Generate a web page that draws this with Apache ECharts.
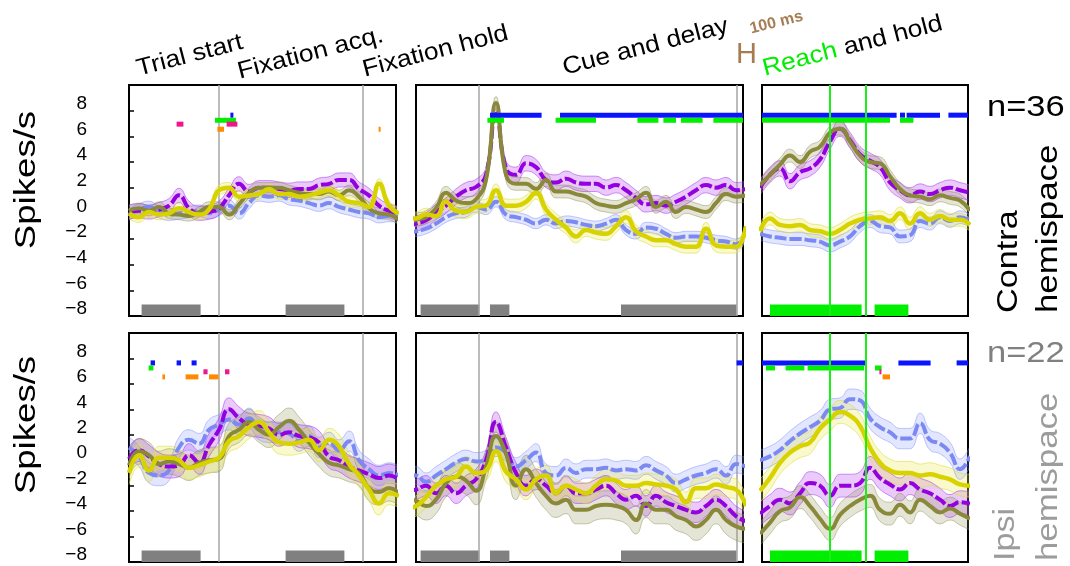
<!DOCTYPE html>
<html>
<head>
<meta charset="utf-8">
<script src="https://cdn.jsdelivr.net/npm/echarts@6/dist/echarts.min.js"></script>
<style>
  html, body { margin: 0; padding: 0; background: #fff; }
  #chart { width: 1070px; height: 566px; }
</style>
</head>
<body>
<div id="chart"></div>
<script>
// ---- time base of each epoch column (ms, relative to the aligning event) ----
const SAMPLE_STEP = 50;
const SAMPLE_START = [0, -365, -350];
const SAMPLE_COUNT = [28, 35, 22];
const X_RANGE = [[0, 1335], [-315, 1320], [-340, 690]];

// ---- y axis (spikes/s, baseline-subtracted) ----
const Y_MIN = -8;
const Y_MAX = 10;
const Y_STEP = 2;

// ---- population means, contralateral hemispace (n=36) ----
const contraViolet = [
  [0.1,0.2,0.1,0.3,0.6,1.4,0.4,0.0,0.1,0.4,1.4,2.3,1.7,2.0,2.0,1.9,1.8,1.9,1.9,2.2,2.3,2.6,2.6,1.9,1.4,0.6,0.2,0.0],
  [-1.06,-0.8,-0.55,0.1,0.6,1.3,1.8,2.05,3.0,8.0,3.5,3.0,3.9,3.6,2.6,2.4,2.7,2.4,2.3,2.3,2.0,2.2,1.8,1.2,0.7,0.8,0.6,0.9,1.3,1.8,2.2,2.0,2.2,1.8,1.9],
  [2.0,3.0,3.5,2.5,3.2,3.5,4.2,5.6,6.6,5.7,4.6,4.1,3.6,2.4,1.8,1.4,1.7,1.5,1.8,2.0,1.8,1.6]
];
const contraBlue = [
  [-0.1,0.3,0.5,0.1,-0.1,0.0,0.1,0.2,0.0,0.3,0.6,0.0,0.8,1.4,1.3,1.4,1.1,1.0,0.8,0.6,0.8,0.5,0.3,0.1,0.0,-0.3,-0.2,-0.3],
  [-1.5,-1.4,-1.2,-0.8,-0.3,0.0,0.1,0.5,0.3,0.9,-0.1,-0.3,-0.5,-0.8,-0.5,-0.8,-0.6,-0.7,-0.9,-1.0,-0.8,-0.5,-1.3,-1.6,-1.1,-1.2,-1.6,-1.9,-1.8,-1.8,-1.9,-2.1,-2.2,-2.4,-1.8],
  [-1.6,-1.8,-1.9,-2.0,-2.0,-2.1,-2.2,-2.5,-2.2,-1.8,-1.0,-0.6,-1.0,-1.1,-1.8,-1.7,-0.6,-0.8,-0.3,-0.6,-0.3,-0.6]
];
const contraOlive = [
  [0.2,0.4,0.2,0.5,0.0,-0.1,-0.2,0.1,0.5,0.5,-0.1,0.7,1.6,2.0,2.0,2.0,1.8,1.6,1.5,1.5,1.7,1.4,1.8,1.3,0.4,0.0,-0.1,-0.5],
  [-0.8,-0.5,-0.3,0.4,1.6,1.0,0.8,1.1,2.6,8.6,3.0,2.3,2.3,1.9,2.6,1.7,1.7,1.5,1.3,0.8,0.6,0.5,0.8,1.1,1.6,0.5,0.9,0.1,0.5,0.3,0.1,0.8,1.5,1.3,1.4],
  [2.2,3.0,3.8,4.5,4.0,4.8,5.2,6.3,6.6,5.6,4.5,4.0,3.9,2.9,1.9,1.4,1.3,1.1,1.4,1.2,1.0,0.2]
];
const contraYellow = [
  [0.0,-0.3,0.1,-0.1,0.0,0.4,0.1,-0.1,0.3,1.8,2.0,1.3,1.4,1.5,1.9,1.5,1.5,1.3,1.4,1.6,1.8,1.4,0.9,0.8,0.5,2.3,0.6,0.0],
  [-0.2,-0.4,-0.1,-0.2,0.9,0.2,0.1,0.5,0.6,1.8,0.6,0.6,0.9,1.6,0.3,-0.5,-1.1,-1.8,-1.3,-1.5,-1.6,-1.0,-0.3,-1.4,-1.8,-2.1,-2.1,-2.4,-2.6,-2.6,-1.2,-2.5,-2.6,-2.6,-1.0],
  [-1.4,-0.4,-0.9,-1.0,-0.9,-1.3,-1.4,-1.6,-1.3,-0.8,-0.5,-0.4,-0.3,-0.6,0.0,-0.8,0.0,-0.5,-0.2,-0.5,-0.5,-0.9]
];
// standard error half-widths per column
const contraVioletSem = [0.55, 0.6, 0.6];
const contraBlueSem = [0.45, 0.4, 0.5];
const contraOliveSem = [0.4, 0.5, 0.5];
const contraYellowSem = [0.4, 0.5, 0.5];

// ---- population means, ipsilateral hemispace (n=22) ----
const ipsiViolet = [
  [0.1,0.8,0.3,-0.3,-0.5,-0.4,0.4,-0.2,1.2,2.4,4.0,3.3,2.8,2.7,2.5,2.0,2.2,1.9,1.8,1.4,0.3,0.0,-0.5,-0.8,-1.1,-1.4,-1.2,-1.5],
  [-2.4,-2.3,-2.0,-2.6,-2.0,-2.6,-2.0,-1.5,0.0,3.0,1.0,-1.0,-2.0,-1.5,-2.0,-2.6,-2.0,-2.6,-2.6,-2.3,-2.0,-2.6,-3.1,-2.8,-3.6,-2.8,-3.3,-3.6,-3.9,-4.1,-3.6,-3.1,-3.6,-4.4,-4.8],
  [-4.2,-3.6,-3.1,-3.4,-2.6,-1.8,-2.0,-2.8,-2.0,-2.0,-1.8,-0.6,-1.4,-1.9,-2.3,-1.8,-2.3,-2.6,-3.1,-3.6,-3.3,-3.4]
];
const ipsiBlue = [
  [1.0,0.3,-1.0,-1.2,-0.8,1.0,1.6,1.3,2.4,2.8,3.2,2.8,3.3,2.4,2.2,2.2,2.1,1.5,1.9,1.0,1.4,0.8,1.5,0.0,-0.7,-1.2,-1.0,-1.2],
  [-1.2,-1.2,-1.7,-1.2,-0.7,-0.2,0.1,-0.1,0.1,1.0,0.6,-0.5,0.0,0.6,-1.0,-1.2,-0.6,-1.0,-0.7,-0.7,-0.6,-0.8,-0.7,-0.8,-0.4,-0.8,-1.2,-1.8,-1.5,-1.2,-1.0,-0.7,-1.2,-0.3,-0.5],
  [0.0,0.3,0.8,1.5,2.1,2.6,3.1,4.0,4.1,4.8,4.7,3.3,2.6,2.2,1.7,1.7,2.9,1.6,1.3,0.6,-0.7,0.3]
];
const ipsiOlive = [
  [-0.4,0.7,0.4,-0.3,-0.1,-0.3,-0.6,-0.2,0.0,0.1,1.9,2.4,3.0,2.4,2.0,2.6,3.1,2.4,1.4,0.5,-0.2,-0.4,-0.7,-1.0,-2.2,-2.5,-2.2,-2.6],
  [-3.0,-3.2,-3.6,-3.1,-1.8,-1.3,-1.6,-2.4,-0.5,1.9,0.5,-2.0,-0.7,-1.8,-2.8,-3.4,-3.1,-3.9,-3.9,-3.6,-3.5,-3.6,-3.9,-4.7,-3.4,-3.9,-3.9,-4.4,-4.7,-5.2,-4.7,-3.9,-4.7,-5.2,-5.4],
  [-5.8,-4.9,-4.0,-3.7,-2.9,-3.6,-4.6,-5.4,-4.3,-3.6,-3.1,-2.8,-3.9,-4.2,-3.5,-4.1,-3.1,-3.6,-4.1,-3.8,-4.2,-4.6]
];
const ipsiYellow = [
  [-1.0,0.4,-0.8,0.2,0.2,0.0,-0.6,-0.4,-0.1,0.2,1.5,1.9,2.6,3.0,2.2,1.4,1.3,1.4,1.6,0.8,1.6,1.1,-0.3,-1.2,-2.3,-3.4,-2.6,-2.8],
  [-3.8,-3.6,-2.9,-2.0,-1.5,-1.3,-0.5,-1.0,-0.8,0.7,-0.9,-1.5,-2.3,-1.5,-1.2,-2.6,-2.0,-2.3,-2.6,-2.0,-1.5,-1.6,-2.0,-2.0,-1.8,-1.9,-2.0,-2.3,-3.3,-2.2,-2.2,-1.9,-2.1,-2.3,-3.6],
  [-2.4,-1.4,-0.2,0.6,1.1,1.4,2.5,3.2,3.8,3.5,2.7,1.0,-0.2,-0.8,-1.0,-1.0,-1.2,-1.1,-1.3,-1.5,-1.9,-2.0]
];
const ipsiVioletSem = [0.9, 0.8, 0.9];
const ipsiBlueSem = [0.8, 0.7, 0.8];
const ipsiOliveSem = [1.0, 1.1, 0.9];
const ipsiYellowSem = [0.9, 0.8, 0.9];

// ---- significance intervals [start ms, end ms, comparison index] ----
// comparison index: 0 blue, 1 green, 2 magenta, 3 orange
const MARK_LEVELS = [7.65, 7.25, 6.95, 6.55];
const contraSignif = [
  [[238,272,2],[430,535,1],[507,522,0],[442,475,3],[488,542,2],[1248,1258,3]],
  [[55,313,0],[405,1330,0],[42,125,1],[383,585,1],[792,897,1],[922,985,1],[1010,1118,1],[1172,1330,1]],
  [[-345,333,0],[350,375,0],[383,550,0],[592,695,0],[-345,300,1],[350,417,1]]
];
const ipsiSignif = [
  [[108,130,0],[238,260,0],[313,338,0],[98,122,1],[167,180,3],[283,347,3],[400,447,3],[372,393,2],[480,502,2]],
  [[1288,1330,0]],
  [[-345,180,0],[342,503,0],[633,695,0],[-320,-275,1],[-222,-128,1],[-112,170,1],[225,258,1],[247,255,2],[263,300,3]]
];

// ---- analysis windows at the bottom of each column [start ms, end ms] ----
const EPOCH_WINDOWS = [
  [[63,358],[783,1077]],
  [[-292,2],[55,152],[710,1288]],
  [[-300,158],[223,392]]
];
const EPOCH_WINDOW_TOP = -7.1;

// ---- task events drawn as vertical lines (ms) ----
const EVENT_TIMES = [[450,1170],[0,1290],[0,180]];

// ---- texts ----
const Y_LABEL = 'Spikes/s';
const EPOCH_TITLES = ['Trial start', 'Fixation acq.', 'Fixation hold', 'Cue and delay'];
const ROW_COUNTS = ['n=36', 'n=22'];
const ROW_NAMES = [['Contra', 'hemispace'], ['Ipsi', 'hemispace']];

// ---------------------------------------------------------------------------
// layout and styling
const FONT = '"Liberation Sans", Arial, Helvetica, sans-serif';
const COL_LEFT = [129, 416, 762];
const COL_WIDTH = [267, 327, 206];
const ROW_TOP = [85, 333];
const ROW_HEIGHT = [231, 229];
const MARK_COLORS = ['#0a14ff', '#00f000', '#f0168c', '#ff8a00'];
const WINDOW_COLORS = ['#808080', '#808080', '#00ee00'];
const EVENT_COLORS = ['#a6a6a6', '#a6a6a6', '#19ee19'];

const STYLE = {
  blue:   { color: '#7b8af2', width: 4, dash: [12, 3], fill: 'rgba(125,140,255,0.22)', edge: 'rgba(120,135,250,0.45)' },
  violet: { color: '#9400e0', width: 4, dash: [12, 3], fill: 'rgba(185,80,240,0.30)', edge: 'rgba(170,60,235,0.55)' },
  olive:  { color: '#8a893a', width: 4, dash: 'solid', fill: 'rgba(150,150,95,0.25)', edge: 'rgba(140,140,80,0.45)' },
  yellow: { color: '#d8d300', width: 4.5, dash: 'solid', fill: 'rgba(235,235,90,0.30)', edge: 'rgba(222,222,70,0.6)' }
};

const ROWS = [
  { curves: [
      { s: STYLE.blue, v: contraBlue, sem: contraBlueSem },
      { s: STYLE.violet, v: contraViolet, sem: contraVioletSem },
      { s: STYLE.olive, v: contraOlive, sem: contraOliveSem },
      { s: STYLE.yellow, v: contraYellow, sem: contraYellowSem }
    ], signif: contraSignif },
  { curves: [
      { s: STYLE.blue, v: ipsiBlue, sem: ipsiBlueSem },
      { s: STYLE.violet, v: ipsiViolet, sem: ipsiVioletSem },
      { s: STYLE.olive, v: ipsiOlive, sem: ipsiOliveSem },
      { s: STYLE.yellow, v: ipsiYellow, sem: ipsiYellowSem }
    ], signif: ipsiSignif }
];

const sampleTimes = SAMPLE_START.map((start, c) =>
  Array.from({ length: SAMPLE_COUNT[c] }, (_, i) => start + i * SAMPLE_STEP));

const grids = [], xAxes = [], yAxes = [], series = [];

ROWS.forEach((row, r) => {
  for (let c = 0; c < 3; c++) {
    const g = r * 3 + c;
    const t = sampleTimes[c];
    grids.push({
      left: COL_LEFT[c], top: ROW_TOP[r], width: COL_WIDTH[c], height: ROW_HEIGHT[r],
      show: true, borderColor: '#000', borderWidth: 2, backgroundColor: 'rgba(0,0,0,0)'
    });
    xAxes.push({ gridIndex: g, type: 'value', min: X_RANGE[c][0], max: X_RANGE[c][1], show: false });
    yAxes.push({
      gridIndex: g, type: 'value', min: Y_MIN, max: Y_MAX, interval: Y_STEP, show: c === 0,
      axisLine: { show: false },
      splitLine: { show: false },
      axisTick: { show: true, inside: true, length: 5, lineStyle: { color: '#000', width: 1.5 } },
      axisLabel: {
        show: true, margin: 42, fontSize: 19, fontFamily: FONT, color: '#000',
        verticalAlign: 'bottom', lineHeight: 14,
        formatter: v => (v > 8 ? '' : (v < 0 ? '\u2212' + (-v) : String(v)))
      }
    });

    // analysis windows along the bottom
    series.push({
      type: 'custom', xAxisIndex: g, yAxisIndex: g, silent: true, z: 1, clip: true,
      data: EPOCH_WINDOWS[c], encode: { x: [0, 1] },
      renderItem: (params, api) => {
        const a = api.coord([api.value(0), Y_MIN]);
        const b = api.coord([api.value(1), EPOCH_WINDOW_TOP]);
        return { type: 'rect', shape: { x: a[0], y: b[1], width: b[0] - a[0], height: a[1] - b[1] },
                 style: { fill: WINDOW_COLORS[c] } };
      }
    });

    // event lines (gray ones behind the traces, green ones on top)
    series.push({
      type: 'custom', xAxisIndex: g, yAxisIndex: g, silent: true, z: c === 2 ? 6 : 1, clip: true,
      data: EVENT_TIMES[c].map(x => [x]), encode: { x: 0 },
      renderItem: (params, api) => {
        const a = api.coord([api.value(0), Y_MIN]);
        const b = api.coord([api.value(0), Y_MAX]);
        return { type: 'line', shape: { x1: a[0], y1: a[1], x2: b[0], y2: b[1] },
                 style: { stroke: EVENT_COLORS[c], lineWidth: c === 2 ? 2 : 1.5 } };
      }
    });

    // SEM bands: lower edge + stacked width
    row.curves.forEach((cv, k) => {
      const mean = cv.v[c];
      const sem = cv.sem[c];
      const stackId = 'band-' + g + '-' + k;
      series.push({
        type: 'line', xAxisIndex: g, yAxisIndex: g, stack: stackId, stackStrategy: 'all',
        data: mean.map((v, i) => [v - sem, t[i]]), encode: { x: 1, y: 0 },
        smooth: true, symbol: 'none', silent: true, z: 2,
        lineStyle: { width: 1, color: cv.s.edge }
      });
      series.push({
        type: 'line', xAxisIndex: g, yAxisIndex: g, stack: stackId, stackStrategy: 'all',
        data: mean.map((v, i) => [2 * sem, t[i]]), encode: { x: 1, y: 0 },
        smooth: true, symbol: 'none', silent: true, z: 2,
        lineStyle: { width: 1, color: cv.s.edge },
        areaStyle: { color: cv.s.fill, opacity: 1 }
      });
    });

    // mean traces
    row.curves.forEach(cv => {
      series.push({
        type: 'line', xAxisIndex: g, yAxisIndex: g,
        data: cv.v[c].map((v, i) => [t[i], v]),
        smooth: true, symbol: 'none', silent: true, z: 3,
        lineStyle: { width: cv.s.width, color: cv.s.color, type: cv.s.dash, cap: 'butt' }
      });
    });

    // significance intervals
    series.push({
      type: 'custom', xAxisIndex: g, yAxisIndex: g, silent: true, z: 5, clip: true,
      data: row.signif[c].map(m => [m[0], m[1], MARK_LEVELS[m[2]], m[2]]),
      encode: { x: [0, 1], y: 2 },
      renderItem: (params, api) => {
        const a = api.coord([api.value(0), api.value(2)]);
        const b = api.coord([api.value(1), api.value(2)]);
        const h = 5;
        return { type: 'rect', shape: { x: a[0], y: a[1] - h / 2, width: Math.max(b[0] - a[0], 2), height: h },
                 style: { fill: MARK_COLORS[api.value(3)] } };
      }
    });
  }
});

// ---- annotation texts ----
const TILT = 14.5 * Math.PI / 180;
const titleStyle = (text) => ({ text, fontSize: 24, fontFamily: FONT, fill: '#000', align: 'left', verticalAlign: 'bottom' });
const graphic = [
  { type: 'text', x: 140, y: 81, rotation: TILT, scaleX: 1.1, style: titleStyle(EPOCH_TITLES[0]) },
  { type: 'text', x: 241, y: 84, rotation: TILT, scaleX: 1.1, style: titleStyle(EPOCH_TITLES[1]) },
  { type: 'text', x: 366, y: 82, rotation: TILT, scaleX: 1.1, style: titleStyle(EPOCH_TITLES[2]) },
  { type: 'text', x: 566, y: 80, rotation: TILT, scaleX: 1.1, style: titleStyle(EPOCH_TITLES[3]) },
  { type: 'text', x: 766, y: 81, rotation: TILT, scaleX: 1.1,
    style: { text: '{g|Reach} and hold', fontSize: 24, fontFamily: FONT, fill: '#000', align: 'left', verticalAlign: 'bottom',
             rich: { g: { fill: '#00ee00', fontSize: 24, fontFamily: FONT } } } },
  // 100 ms scale
  { type: 'text', x: 736, y: 69, style: { text: 'H', fontSize: 29, fontFamily: FONT, fill: '#a67c52', align: 'left', verticalAlign: 'bottom' } },
  { type: 'text', x: 752, y: 37, rotation: 14 * Math.PI / 180, style: { text: '100 ms', fontSize: 16, fontWeight: 'bold', fontFamily: FONT, fill: '#a67c52', align: 'left', verticalAlign: 'bottom' } },
  // y labels
  { type: 'text', x: 27, y: 180, rotation: Math.PI / 2, scaleX: 1.22, style: { text: Y_LABEL, fontSize: 30, fontFamily: FONT, fill: '#000', align: 'center', verticalAlign: 'middle' } },
  { type: 'text', x: 27, y: 425, rotation: Math.PI / 2, scaleX: 1.22, style: { text: Y_LABEL, fontSize: 30, fontFamily: FONT, fill: '#000', align: 'center', verticalAlign: 'middle' } },
  // row annotations
  { type: 'text', x: 987, y: 123, scaleX: 1.15, style: { text: ROW_COUNTS[0], fontSize: 30, fontFamily: FONT, fill: '#000', align: 'left', verticalAlign: 'bottom' } },
  { type: 'text', x: 987, y: 369, scaleX: 1.15, style: { text: ROW_COUNTS[1], fontSize: 30, fontFamily: FONT, fill: '#808080', align: 'left', verticalAlign: 'bottom' } },
  { type: 'text', x: 1024, y: 313, rotation: Math.PI / 2, scaleX: 1.14, style: { text: ROW_NAMES[0][0], fontSize: 30, fontFamily: FONT, fill: '#000', align: 'left', verticalAlign: 'bottom' } },
  { type: 'text', x: 1064, y: 313, rotation: Math.PI / 2, scaleX: 1.16, style: { text: ROW_NAMES[0][1], fontSize: 30, fontFamily: FONT, fill: '#000', align: 'left', verticalAlign: 'bottom' } },
  { type: 'text', x: 1021, y: 561, rotation: Math.PI / 2, scaleX: 1.14, style: { text: ROW_NAMES[1][0], fontSize: 30, fontFamily: FONT, fill: '#9c9c9c', align: 'left', verticalAlign: 'bottom' } },
  { type: 'text', x: 1064, y: 561, rotation: Math.PI / 2, scaleX: 1.16, style: { text: ROW_NAMES[1][1], fontSize: 30, fontFamily: FONT, fill: '#9c9c9c', align: 'left', verticalAlign: 'bottom' } }
];

const chart = echarts.init(document.getElementById('chart'), null, { renderer: 'canvas' });
chart.setOption({
  animation: false,
  backgroundColor: '#fff',
  grid: grids,
  xAxis: xAxes,
  yAxis: yAxes,
  series: series,
  graphic: graphic
});
</script>
</body>
</html>
